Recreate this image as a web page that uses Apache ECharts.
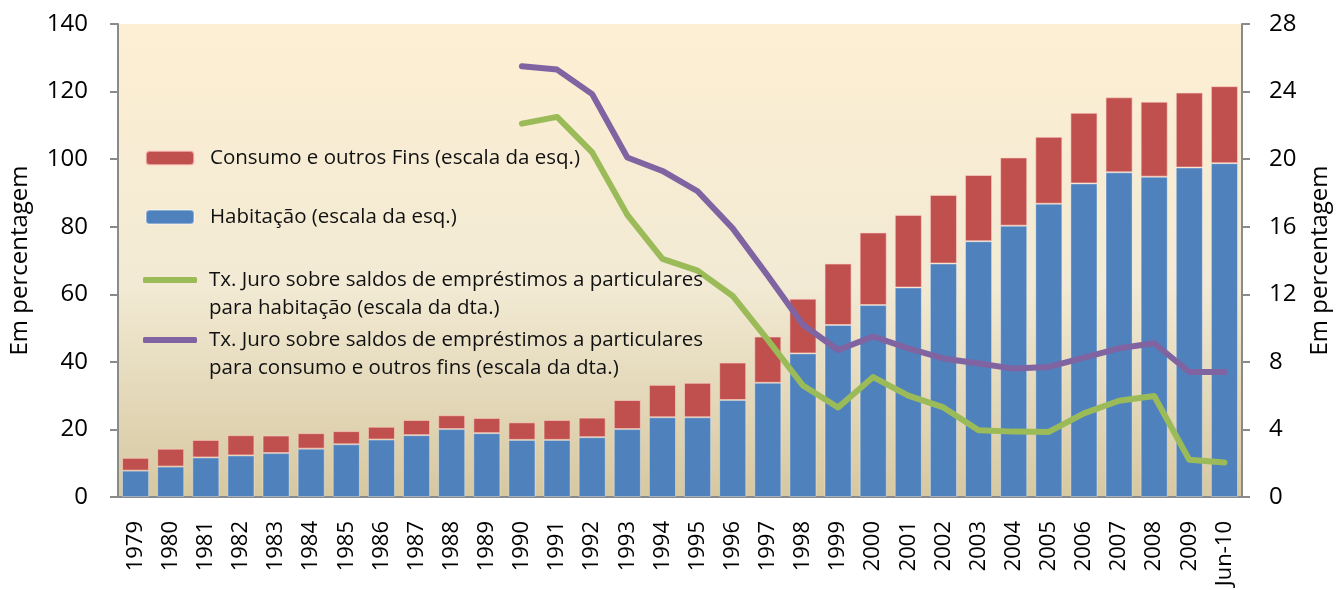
<!DOCTYPE html>
<html>
<head>
<meta charset="utf-8">
<script src="https://cdn.jsdelivr.net/npm/echarts@6/dist/echarts.min.js"></script>
<style>
html,body{margin:0;padding:0;background:#fff;}
#chart{width:1340px;height:590px;}
</style>
</head>
<body>
<div id="chart"></div>
<script>
var categories = ['1979','1980','1981','1982','1983','1984','1985','1986','1987','1988','1989','1990','1991','1992','1993','1994','1995','1996','1997','1998','1999','2000','2001','2002','2003','2004','2005','2006','2007','2008','2009','Jun-10'];
var habitacao = [7.8,9.0,11.7,12.3,13.0,14.3,15.6,17.0,18.3,20.1,18.9,16.9,16.9,17.7,20.1,23.6,23.6,28.7,33.8,42.5,50.9,56.8,62.0,69.1,75.7,80.3,86.8,92.8,96.1,94.8,97.5,98.8];
var consumo = [3.8,5.3,5.2,6.0,5.2,4.6,3.9,3.8,4.5,4.1,4.5,5.2,5.9,5.8,8.6,9.6,10.2,11.1,13.7,16.2,18.2,21.5,21.5,20.3,19.6,20.2,19.8,20.9,22.2,22.2,22.2,22.8];
var juroHabitacao = [null,null,null,null,null,null,null,null,null,null,null,22.1,22.5,20.4,16.7,14.1,13.4,11.9,9.3,6.6,5.3,7.1,6.0,5.3,3.95,3.87,3.85,4.95,5.7,5.98,2.2,2.04];
var juroConsumo = [null,null,null,null,null,null,null,null,null,null,null,25.5,25.3,23.85,20.1,19.3,18.1,15.9,13.1,10.2,8.7,9.5,8.8,8.2,7.9,7.6,7.7,8.25,8.8,9.1,7.4,7.4];
var leftTicks = {min:0, max:140, interval:20};
var rightTicks = {min:0, max:28, interval:4};

var names = {
  consumo: 'Consumo e outros Fins (escala da esq.)',
  habitacao: 'Habitação (escala da esq.)',
  jh: 'Tx. Juro sobre saldos de empréstimos a particulares\npara habitação (escala da dta.)',
  jc: 'Tx. Juro sobre saldos de empréstimos a particulares\npara consumo e outros fins (escala da dta.)'
};
var FONT = 'Open Sans';
var LH = 28;
// center: vertical centre of the icon / first text line
function mkLegend(name, center, left, w, h, textPad, multi, icon) {
  var d = icon ? { name: name, icon: icon } : { name: name };
  return {
    data: [d], left: left, top: multi ? center - 1.5 * LH : center - LH / 2,
    itemWidth: w, itemHeight: h, itemGap: 0,
    padding: 0, selectedMode: false,
    formatter: multi ? function (n) { return '\u00a0\n' + n; } : null,
    textStyle: { fontFamily: FONT, fontSize: 20.5, color: '#111', lineHeight: LH, padding: [0, 0, 0, textPad] }
  };
}

var chart = echarts.init(document.getElementById('chart'));
chart.setOption({
  animation: false,
  backgroundColor: '#fff',
  grid: { left: 118, right: 95, top: 24, bottom: 93, show: true, borderWidth: 0,
    backgroundColor: new echarts.graphic.LinearGradient(0,0,0,1,[
      {offset:0, color:'#FDEFD3'},{offset:0.55, color:'#F2EAD4'},{offset:1, color:'#D6C8A0'}]) },
  legend: [
    mkLegend(names.consumo, 158, 145, 48, 14, 11, false),
    mkLegend(names.habitacao, 217, 145, 48, 14, 11, false),
    mkLegend(names.jh, 280, 143, 54, 6, 7, true, 'roundRect'),
    mkLegend(names.jc, 340, 143, 54, 6, 7, true, 'roundRect')
  ],
  xAxis: {
    type: 'category', data: categories, boundaryGap: true,
    axisLine: { lineStyle: { color: '#8a8a8a', width: 2 } },
    axisTick: { length: 8, lineStyle: { color: '#8a8a8a', width: 2 } },
    axisLabel: { rotate: 90, fontFamily: FONT, fontSize: 22, color: '#000', margin: 24, interval: 0 }
  },
  yAxis: [
    { type: 'value', min: leftTicks.min, max: leftTicks.max, interval: leftTicks.interval, position: 'left',
      name: 'Em percentagem', nameLocation: 'middle', nameGap: 86, nameRotate: 90,
      nameTextStyle: { fontFamily: FONT, fontSize: 24, color: '#000' },
      axisLine: { show: true, lineStyle: { color: '#8a8a8a', width: 2 } },
      axisTick: { show: true, length: 8, lineStyle: { color: '#8a8a8a', width: 2 } },
      axisLabel: { fontFamily: FONT, fontSize: 24, color: '#000', margin: 30 },
      splitLine: { show: false } },
    { type: 'value', min: rightTicks.min, max: rightTicks.max, interval: rightTicks.interval, position: 'right',
      name: 'Em percentagem', nameLocation: 'middle', nameGap: 66, nameRotate: 90,
      nameTextStyle: { fontFamily: FONT, fontSize: 24, color: '#000' },
      axisLine: { show: true, lineStyle: { color: '#8a8a8a', width: 2 } },
      axisTick: { show: true, length: 8, lineStyle: { color: '#8a8a8a', width: 2 } },
      axisLabel: { fontFamily: FONT, fontSize: 24, color: '#000', margin: 27 },
      splitLine: { show: false } }
  ],
  series: [
    { name: names.habitacao, type: 'bar', stack: 'a', data: habitacao, barCategoryGap: '23%',
      itemStyle: { color: '#4F81BD', borderColor: 'rgba(255,255,255,0.35)', borderWidth: 1 } },
    { name: names.consumo, type: 'bar', stack: 'a', data: consumo, barCategoryGap: '23%',
      itemStyle: { color: '#C0504D', borderColor: 'rgba(255,210,200,0.6)', borderWidth: 1 } },
    { name: names.jh, type: 'line', yAxisIndex: 1, data: juroHabitacao, symbol: 'none',
      itemStyle: { color: '#9BBB59' }, lineStyle: { color: '#9BBB59', width: 6, cap: 'round', join: 'round' } },
    { name: names.jc, type: 'line', yAxisIndex: 1, data: juroConsumo, symbol: 'none',
      itemStyle: { color: '#8064A2' }, lineStyle: { color: '#8064A2', width: 6, cap: 'round', join: 'round' } }
  ]
});
</script>
</body>
</html>
